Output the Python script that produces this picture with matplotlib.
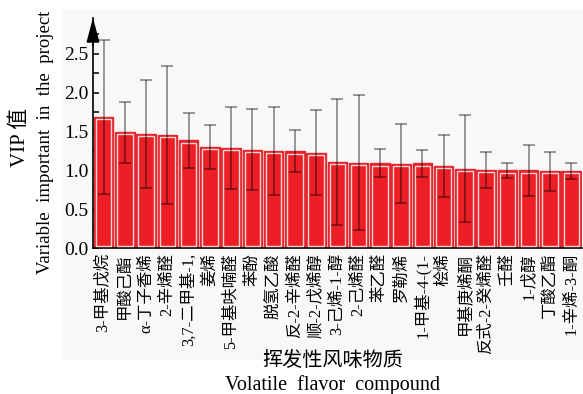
import matplotlib
matplotlib.use('Agg')
import numpy as np
import matplotlib.pyplot as plt
from matplotlib.patches import Rectangle

plt.rcParams['font.family'] = ['Liberation Serif', 'Noto Sans CJK SC']
plt.rcParams['axes.unicode_minus'] = False

compounds = ['3-甲基戊烷', '甲酸己酯', 'α-丁子香烯', '2-辛烯醛', '3,7-二甲基-1,',
             '姜烯', '5-甲基呋喃醛', '苯酚', '脱氢乙酸', '反-2-辛烯醛',
             '顺-2-戊烯醇', '3-己烯-1-醇', '2-己烯醛', '苯乙醛', '罗勒烯',
             '1-甲基-4-(1-', '桧烯', '甲基庚烯酮', '反式-2-癸烯醛', '壬醛',
             '1-戊醇', '丁酸乙酯', '1-辛烯-3-酮']
vip = [1.69, 1.49, 1.47, 1.455, 1.386, 1.30, 1.286, 1.265, 1.25, 1.245,
       1.23, 1.11, 1.10, 1.09, 1.088, 1.09, 1.057, 1.023, 1.005, 1.00,
       1.00, 0.99, 0.99]
err = [0.99, 0.39, 0.69, 0.88, 0.35, 0.28, 0.53, 0.52, 0.57, 0.27,
       0.54, 0.81, 0.87, 0.18, 0.51, 0.17, 0.40, 0.69, 0.23, 0.10,
       0.33, 0.25, 0.10]
yticks = [0.0, 0.5, 1.0, 1.5, 2.0, 2.5]

fig = plt.figure(figsize=(5.83, 3.94), dpi=100)
# light panel behind the plot
panel = Rectangle((63 / 583, 1 - 360 / 394), 520 / 583, 350 / 394,
                  transform=fig.transFigure, facecolor='#f8f8f8',
                  edgecolor='none', zorder=-5)
fig.patches.append(panel)
ax = fig.add_axes([0.1595, 0.3698, 0.8385, 0.585])
ax.set_facecolor('none')
ax.set_zorder(2)

x = np.arange(len(vip))
vip = np.array(vip)
w = 0.915
ax.bar(x, vip, width=w, color='#ec1e26', edgecolor='#dc2a30', lw=1.0, zorder=2)
# inner light outline
ins = 0.028
ax.bar(x, vip - 2 * ins, bottom=ins, width=w - 0.19, fill=False,
       edgecolor='#f9d6d6', lw=1.0, zorder=3)
ax.errorbar(x, vip, yerr=err, fmt='none', ecolor='black', alpha=0.42,
            elinewidth=1.3, capsize=4.5, capthick=1.3, zorder=4)

ax.set_xlim(-0.5, 22.5)
ax.set_ylim(0, 2.96)
ax.set_yticks(yticks)
ax.set_yticklabels(['%.1f' % t for t in yticks], fontsize=14)
ax.set_yticks(np.arange(0.25, 2.8, 0.5), minor=True)
ax.set_xticks(x)
ax.set_xticklabels(compounds, rotation=90, fontsize=11.8)
ax.tick_params(axis='y', which='both', direction='in', length=4, width=1.1, pad=3)
ax.tick_params(axis='x', direction='in', length=5, width=1.1, pad=3.5)
for s in ['top', 'right']:
    ax.spines[s].set_visible(False)
for s in ['left', 'bottom']:
    ax.spines[s].set_linewidth(1.2)

ax.annotate('', xy=(-0.5, 2.96), xytext=(-0.5, 2.6),
            arrowprops=dict(arrowstyle='-|>,head_length=0.75,head_width=0.2',
                            color='black', lw=1.2, mutation_scale=20,
                            shrinkA=0, shrinkB=0),
            annotation_clip=False, zorder=5)

fig.text(0.035, 0.65, 'VIP 值', rotation=90, ha='center', va='center', fontsize=15)
fig.text(0.078, 0.64, 'Variable  important  in  the  project', rotation=90,
         ha='center', va='center', fontsize=13.5)
fig.text(0.57, 0.083, '挥发性风味物质', ha='center', va='center', fontsize=14.5)
fig.text(0.57, 0.022, 'Volatile  flavor  compound', ha='center', va='center',
         fontsize=14.5)

fig.savefig('out.png', dpi=100)
